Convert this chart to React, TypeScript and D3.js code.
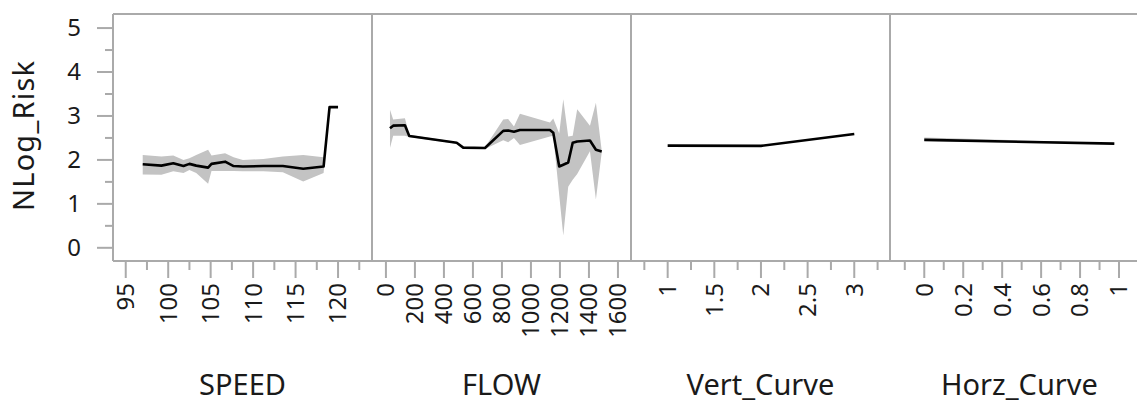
import { scaleLinear, line, area } from "d3"

// SPEED panel
const speedX = [97, 99.2, 100.6, 101.8, 102.5, 103.3, 104.7, 105.1, 106.7, 107.7, 108.8, 111.2, 113.5, 115.9, 118.3, 119, 120]
const speedY = [1.9, 1.87, 1.925, 1.86, 1.91, 1.87, 1.825, 1.91, 1.96, 1.86, 1.85, 1.86, 1.86, 1.8, 1.85, 3.2, 3.2]
const speedLo = [1.67, 1.66, 1.74, 1.7, 1.77, 1.7, 1.46, 1.75, 1.75, 1.75, 1.74, 1.74, 1.72, 1.51, 1.7, 3.19, 3.19]
const speedHi = [2.11, 2.08, 2.1, 2.0, 2.04, 2.11, 2.23, 2.1, 2.15, 2.06, 2.0, 2.02, 2.08, 2.11, 2.06, 3.21, 3.21]

// FLOW panel
const flowX = [28, 50, 131, 161, 488, 533, 683, 809, 843, 883, 924, 1131, 1154, 1195, 1223, 1257, 1288, 1319, 1407, 1448, 1488]
const flowY = [2.72, 2.78, 2.79, 2.545, 2.39, 2.28, 2.27, 2.66, 2.67, 2.64, 2.68, 2.68, 2.62, 1.85, 1.89, 1.94, 2.39, 2.42, 2.44, 2.23, 2.19]
const flowLo = [2.27, 2.55, 2.55, 2.52, 2.37, 2.26, 2.25, 2.45, 2.4, 2.5, 2.34, 2.53, 2.55, 1.2, 0.28, 1.39, 1.55, 1.68, 2.2, 1.1, 2.17]
const flowHi = [3.14, 2.92, 2.95, 2.57, 2.41, 2.3, 2.29, 2.92, 2.93, 2.76, 3.05, 2.85, 2.94, 2.6, 3.38, 2.53, 2.55, 3.15, 2.78, 3.3, 2.21]

// Vert_Curve panel
const vertX = [1, 2, 3]
const vertY = [2.325, 2.32, 2.59]
const vertLo = [2.32, 2.315, 2.585]
const vertHi = [2.33, 2.325, 2.595]

// Horz_Curve panel
const horzX = [0, 0.976]
const horzY = [2.455, 2.37]
const horzLo = [2.43, 2.36]
const horzHi = [2.51, 2.38]

const panelNames = ["SPEED", "FLOW", "Vert_Curve", "Horz_Curve"]
const speedTicks = [95, 100, 105, 110, 115, 120]
const speedMinor = [97.5, 102.5, 107.5, 112.5, 117.5, 122.5]
const flowTicks = [0, 200, 400, 600, 800, 1000, 1200, 1400, 1600]
const vertTicks = [1, 1.5, 2, 2.5, 3]
const vertMinor = [0.75, 1.25, 1.75, 2.25, 2.75, 3.25]
const horzTicks = [0, 0.2, 0.4, 0.6, 0.8, 1]
const horzMinor = [-0.1, 0.1, 0.3, 0.5, 0.7, 0.9, 1.1]
const yTicks = [0, 1, 2, 3, 4, 5]
const yMinor = [0.5, 1.5, 2.5, 3.5, 4.5]

const W = 1137
const H = 406
const left = 113
const top = 14
const bottom = 261
const panelW = 259
const font = "'Noto Sans', 'Open Sans', sans-serif"
const gray = "#aaaaaa"
const ink = "#1a1a1a"

export default function App() {
  const y = scaleLinear([-0.3, 5.32], [bottom, top])

  const panels = [
    { domain: [93.5, 124], xs: speedX, ys: speedY, lo: speedLo, hi: speedHi, ticks: speedTicks, minor: speedMinor },
    { domain: [-96, 1690], xs: flowX, ys: flowY, lo: flowLo, hi: flowHi, ticks: flowTicks, minor: [] },
    { domain: [0.607, 3.383], xs: vertX, ys: vertY, lo: vertLo, hi: vertHi, ticks: vertTicks, minor: vertMinor },
    { domain: [-0.176, 1.154], xs: horzX, ys: horzY, lo: horzLo, hi: horzHi, ticks: horzTicks, minor: horzMinor },
  ]

  return (
    <svg width={W} height={H} style={{ position: "absolute", left: 0, top: 0, background: "#fff" }} fontFamily={font}>
      {/* y axis */}
      <text transform={`translate(34,136) rotate(-90)`} textAnchor="middle" fontSize={29} textLength={150} lengthAdjust="spacing" fill={ink}>NLog_Risk</text>
      {yTicks.map(t => (
        <g key={"y" + t}>
          <line x1={97} x2={left} y1={y(t)} y2={y(t)} stroke={gray} strokeWidth={2} />
          <text x={81} y={y(t)} dy="0.35em" textAnchor="end" fontSize={24} fill={ink}>{t}</text>
        </g>
      ))}
      {yMinor.map(t => (
        <line key={"ym" + t} x1={105} x2={left} y1={y(t)} y2={y(t)} stroke={gray} strokeWidth={2} />
      ))}

      {panels.map((p, i) => {
        const x0 = left + i * panelW
        const x = scaleLinear(p.domain, [x0, x0 + panelW])
        const idx = p.xs.map((_, j) => j)
        const band = area<number>().x(j => x(p.xs[j])).y0(j => y(p.lo[j])).y1(j => y(p.hi[j]))
        const path = line<number>().x(j => x(p.xs[j])).y(j => y(p.ys[j]))
        return (
          <g key={i}>
            <path d={band(idx) ?? ""} fill="#c3c3c3" />
            <path d={path(idx) ?? ""} fill="none" stroke="#000" strokeWidth={2.6} strokeLinejoin="round" />
            {p.ticks.map(t => (
              <g key={"t" + t}>
                <line x1={x(t)} x2={x(t)} y1={bottom} y2={278} stroke={gray} strokeWidth={2} />
                <text transform={`translate(${x(t)},283) rotate(-90)`} dy="0.35em" textAnchor="end" fontSize={24} fill={ink}>{t}</text>
              </g>
            ))}
            {p.minor.map(t => (
              <line key={"m" + t} x1={x(t)} x2={x(t)} y1={bottom} y2={270} stroke={gray} strokeWidth={2} />
            ))}
            <line x1={x0} x2={x0} y1={top} y2={bottom} stroke={gray} strokeWidth={2} />
            <text x={x0 + panelW / 2} y={395} textAnchor="middle" fontSize={29} fill={ink}>{panelNames[i]}</text>
          </g>
        )
      })}
      <line x1={left} x2={left + 4 * panelW} y1={top} y2={top} stroke={gray} strokeWidth={2} />
      <line x1={left} x2={left + 4 * panelW} y1={bottom} y2={bottom} stroke={gray} strokeWidth={2} />
    </svg>
  )
}
